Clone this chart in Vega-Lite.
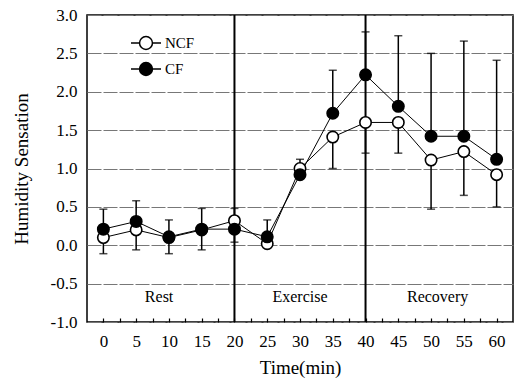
{
  "$schema": "https://vega.github.io/schema/vega-lite/v6.json",
  "width": 426,
  "height": 307,
  "autosize": "none",
  "padding": {"left": 87, "top": 15, "right": 1, "bottom": 58},
  "background": "white",
  "config": {
    "view": {"stroke": "black", "strokeWidth": 1.5},
    "font": "Liberation Serif",
    "axisX": {
      "tickSize": -4, "tickColor": "black", "tickWidth": 1.2,
      "domain": false, "grid": false,
      "labelFont": "Liberation Serif", "labelFontSize": 17, "labelColor": "black",
      "labelPadding": 15, "labelOverlap": false,
      "titleFont": "Liberation Serif", "titleFontSize": 19,
      "titleFontWeight": "normal", "titleColor": "black", "titlePadding": 9
    },
    "axisY": {
      "ticks": false, "domain": false,
      "grid": true, "gridColor": "#777777", "gridWidth": 1, "gridDash": [14, 2],
      "labelFont": "Liberation Serif", "labelFontSize": 17, "labelColor": "black",
      "labelPadding": 10, "labelOverlap": false,
      "titleFont": "Liberation Serif", "titleFontSize": 19,
      "titleFontWeight": "normal", "titleColor": "black", "titlePadding": 19
    }
  },
  "datasets": {
    "means": [
      {"t": 0, "series": "NCF", "v": 0.1},
      {"t": 5, "series": "NCF", "v": 0.2},
      {"t": 10, "series": "NCF", "v": 0.1},
      {"t": 15, "series": "NCF", "v": 0.2},
      {"t": 20, "series": "NCF", "v": 0.32},
      {"t": 25, "series": "NCF", "v": 0.02},
      {"t": 30, "series": "NCF", "v": 1.0},
      {"t": 35, "series": "NCF", "v": 1.41},
      {"t": 40, "series": "NCF", "v": 1.6},
      {"t": 45, "series": "NCF", "v": 1.6},
      {"t": 50, "series": "NCF", "v": 1.11},
      {"t": 55, "series": "NCF", "v": 1.22},
      {"t": 60, "series": "NCF", "v": 0.92},
      {"t": 0, "series": "CF", "v": 0.21},
      {"t": 5, "series": "CF", "v": 0.31},
      {"t": 10, "series": "CF", "v": 0.11},
      {"t": 15, "series": "CF", "v": 0.21},
      {"t": 20, "series": "CF", "v": 0.21},
      {"t": 25, "series": "CF", "v": 0.11},
      {"t": 30, "series": "CF", "v": 0.92},
      {"t": 35, "series": "CF", "v": 1.72},
      {"t": 40, "series": "CF", "v": 2.22},
      {"t": 45, "series": "CF", "v": 1.81},
      {"t": 50, "series": "CF", "v": 1.42},
      {"t": 55, "series": "CF", "v": 1.42},
      {"t": 60, "series": "CF", "v": 1.12}
    ],
    "errs": [
      {"t": 0, "mean": 0.21, "end": 0.47},
      {"t": 0, "mean": 0.1, "end": -0.11},
      {"t": 5, "mean": 0.31, "end": 0.58},
      {"t": 5, "mean": 0.2, "end": -0.06},
      {"t": 10, "mean": 0.11, "end": 0.33},
      {"t": 10, "mean": 0.1, "end": -0.11},
      {"t": 15, "mean": 0.21, "end": 0.48},
      {"t": 15, "mean": 0.2, "end": -0.06},
      {"t": 20, "mean": 0.32, "end": 0.48},
      {"t": 20, "mean": 0.21, "end": 0.04},
      {"t": 25, "mean": 0.11, "end": 0.33},
      {"t": 30, "mean": 1.0, "end": 1.12},
      {"t": 35, "mean": 1.72, "end": 2.28},
      {"t": 35, "mean": 1.41, "end": 1.0},
      {"t": 40, "mean": 2.22, "end": 2.78},
      {"t": 40, "mean": 1.6, "end": 1.2},
      {"t": 45, "mean": 1.81, "end": 2.73},
      {"t": 45, "mean": 1.6, "end": 1.2},
      {"t": 50, "mean": 1.42, "end": 2.5},
      {"t": 50, "mean": 1.11, "end": 0.47},
      {"t": 55, "mean": 1.42, "end": 2.66},
      {"t": 55, "mean": 1.22, "end": 0.65},
      {"t": 60, "mean": 1.12, "end": 2.41},
      {"t": 60, "mean": 0.92, "end": 0.5}
    ],
    "dividers": [{"t": 20}, {"t": 40}],
    "phases": [
      {"label": "Rest", "t": 8.5, "v": -0.68},
      {"label": "Exercise", "t": 30, "v": -0.68},
      {"label": "Recovery", "t": 51, "v": -0.68}
    ]
  },
  "layer": [
    {
      "data": {"name": "means"},
      "mark": {"type": "line", "color": "black", "strokeWidth": 1},
      "encoding": {
        "x": {
          "field": "t", "type": "quantitative",
          "scale": {"domain": [-2.5, 62.5], "nice": false, "zero": false},
          "axis": {
            "values": [0, 2.5, 5, 7.5, 10, 12.5, 15, 17.5, 20, 22.5, 25, 27.5, 30, 32.5, 35, 37.5, 40, 42.5, 45, 47.5, 50, 52.5, 55, 57.5, 60],
            "labelExpr": "datum.value % 5 === 0 ? format(datum.value, 'd') : ''",
            "title": "Time(min)"
          }
        },
        "y": {
          "field": "v", "type": "quantitative",
          "scale": {"domain": [-1, 3], "nice": false, "zero": false},
          "axis": {
            "values": [-1, -0.5, 0, 0.5, 1, 1.5, 2, 2.5, 3],
            "labelExpr": "replace(format(datum.value, '.1f'), '−', '-')",
            "title": "Humidity Sensation"
          }
        },
        "detail": {"field": "series"}
      }
    },
    {
      "data": {"name": "dividers"},
      "mark": {"type": "rule", "color": "black", "strokeWidth": 2},
      "encoding": {
        "x": {
          "field": "t", "type": "quantitative",
          "axis": {
            "values": [0, 2.5, 5, 7.5, 10, 12.5, 15, 17.5, 20, 22.5, 25, 27.5, 30, 32.5, 35, 37.5, 40, 42.5, 45, 47.5, 50, 52.5, 55, 57.5, 60],
            "labelExpr": "datum.value % 5 === 0 ? format(datum.value, 'd') : ''",
            "title": "Time(min)"
          }
        }
      }
    },
    {
      "data": {"name": "errs"},
      "mark": {"type": "rule", "color": "black", "strokeWidth": 1.5},
      "encoding": {
        "x": {
          "field": "t", "type": "quantitative",
          "axis": {
            "values": [0, 2.5, 5, 7.5, 10, 12.5, 15, 17.5, 20, 22.5, 25, 27.5, 30, 32.5, 35, 37.5, 40, 42.5, 45, 47.5, 50, 52.5, 55, 57.5, 60],
            "labelExpr": "datum.value % 5 === 0 ? format(datum.value, 'd') : ''",
            "title": "Time(min)"
          }
        },
        "y": {
          "field": "mean", "type": "quantitative",
          "axis": {
            "values": [-1, -0.5, 0, 0.5, 1, 1.5, 2, 2.5, 3],
            "labelExpr": "replace(format(datum.value, '.1f'), '−', '-')",
            "title": "Humidity Sensation"
          }
        },
        "y2": {"field": "end"}
      }
    },
    {
      "data": {"name": "errs"},
      "mark": {"type": "tick", "orient": "horizontal", "color": "black", "size": 8, "thickness": 1.5},
      "encoding": {
        "x": {
          "field": "t", "type": "quantitative",
          "axis": {
            "values": [0, 2.5, 5, 7.5, 10, 12.5, 15, 17.5, 20, 22.5, 25, 27.5, 30, 32.5, 35, 37.5, 40, 42.5, 45, 47.5, 50, 52.5, 55, 57.5, 60],
            "labelExpr": "datum.value % 5 === 0 ? format(datum.value, 'd') : ''",
            "title": "Time(min)"
          }
        },
        "y": {
          "field": "end", "type": "quantitative",
          "axis": {
            "values": [-1, -0.5, 0, 0.5, 1, 1.5, 2, 2.5, 3],
            "labelExpr": "replace(format(datum.value, '.1f'), '−', '-')",
            "title": "Humidity Sensation"
          }
        }
      }
    },
    {
      "data": {"name": "means"},
      "mark": {"type": "point", "shape": "circle", "filled": true, "size": 130, "stroke": "black", "strokeWidth": 1.6, "opacity": 1},
      "encoding": {
        "x": {
          "field": "t", "type": "quantitative",
          "axis": {
            "values": [0, 2.5, 5, 7.5, 10, 12.5, 15, 17.5, 20, 22.5, 25, 27.5, 30, 32.5, 35, 37.5, 40, 42.5, 45, 47.5, 50, 52.5, 55, 57.5, 60],
            "labelExpr": "datum.value % 5 === 0 ? format(datum.value, 'd') : ''",
            "title": "Time(min)"
          }
        },
        "y": {
          "field": "v", "type": "quantitative",
          "axis": {
            "values": [-1, -0.5, 0, 0.5, 1, 1.5, 2, 2.5, 3],
            "labelExpr": "replace(format(datum.value, '.1f'), '−', '-')",
            "title": "Humidity Sensation"
          }
        },
        "fill": {
          "field": "series", "type": "nominal",
          "scale": {"domain": ["NCF", "CF"], "range": ["white", "black"]},
          "legend": {
            "title": null, "orient": "none", "legendX": 43, "legendY": 12,
            "symbolType": "M-1,0H-0.43M0.43,0H1M-0.43,0A0.43,0.43 0 1,1 0.43,0A0.43,0.43 0 1,1 -0.43,0Z",
            "symbolSize": 900, "symbolStrokeColor": "black", "symbolStrokeWidth": 1.5,
            "symbolOpacity": 1,
            "labelFont": "Liberation Serif", "labelFontSize": 15, "labelColor": "black",
            "labelOffset": 3, "rowPadding": -4, "padding": 0
          }
        }
      }
    },
    {
      "data": {"name": "phases"},
      "mark": {"type": "text", "font": "Liberation Serif", "fontSize": 16, "color": "black"},
      "encoding": {
        "x": {
          "field": "t", "type": "quantitative",
          "axis": {
            "values": [0, 2.5, 5, 7.5, 10, 12.5, 15, 17.5, 20, 22.5, 25, 27.5, 30, 32.5, 35, 37.5, 40, 42.5, 45, 47.5, 50, 52.5, 55, 57.5, 60],
            "labelExpr": "datum.value % 5 === 0 ? format(datum.value, 'd') : ''",
            "title": "Time(min)"
          }
        },
        "y": {
          "field": "v", "type": "quantitative",
          "axis": {
            "values": [-1, -0.5, 0, 0.5, 1, 1.5, 2, 2.5, 3],
            "labelExpr": "replace(format(datum.value, '.1f'), '−', '-')",
            "title": "Humidity Sensation"
          }
        },
        "text": {"field": "label"}
      }
    }
  ]
}
